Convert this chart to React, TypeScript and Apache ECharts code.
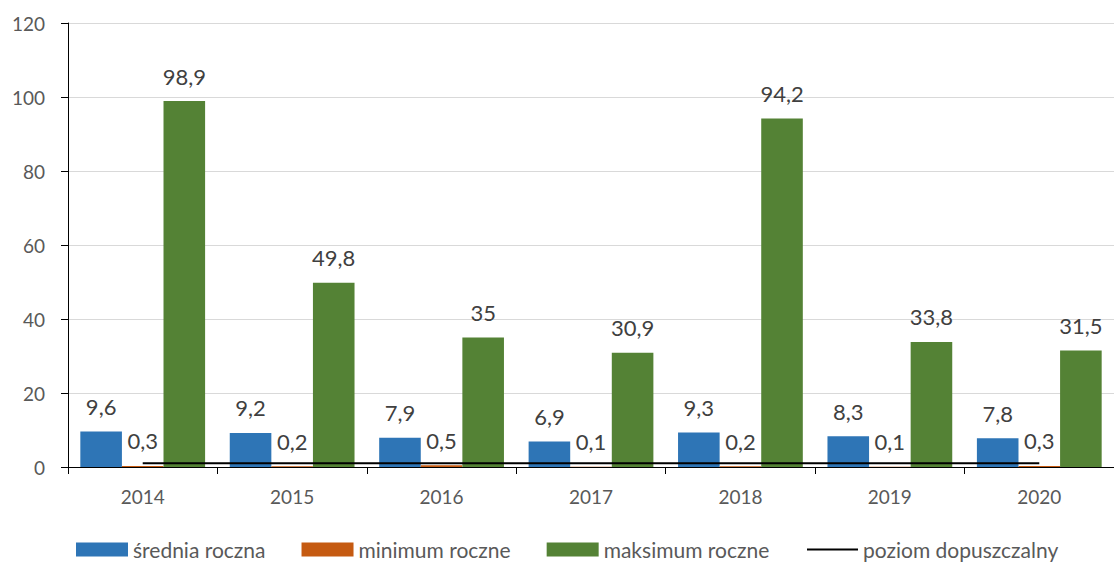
import React, { useEffect, useRef } from "react";
import * as echarts from "echarts";

const years = ["2014", "2015", "2016", "2017", "2018", "2019", "2020"];
const srednia = [9.6, 9.2, 7.9, 6.9, 9.3, 8.3, 7.8];
const minimum = [0.3, 0.2, 0.5, 0.1, 0.2, 0.1, 0.3];
const maksimum = [98.9, 49.8, 35, 30.9, 94.2, 33.8, 31.5];
const poziom = [1, 1, 1, 1, 1, 1, 1];
const seriesNames = ["średnia roczna", "minimum roczne", "maksimum roczne", "poziom dopuszczalny"];

const FONT = "Lato";

export default function App() {
  const ref = useRef<HTMLDivElement>(null);
  useEffect(() => {
    const chart = echarts.init(ref.current!, null, { renderer: "svg" });
    const fmt = (p: any) => String(p.value).replace(".", ",");
    const label = {
      show: true,
      position: "top",
      distance: 14,
      formatter: fmt,
      color: "#404040",
      fontFamily: FONT,
      fontSize: 22,
    };
    const legendText = { color: "#595959", fontSize: 21, fontFamily: FONT, lineHeight: 20 };
    chart.setOption({
      animation: false,
      textStyle: { fontFamily: FONT },
      grid: { left: 68, right: 0, top: 23, bottom: 96, containLabel: false },
      legend: [
        {
          left: 76,
          top: 539,
          padding: 0,
          itemWidth: 52,
          itemHeight: 14,
          itemGap: 36,
          icon: "rect",
          textStyle: legendText,
          data: seriesNames.slice(0, 3),
        },
        {
          left: 807,
          top: 539,
          padding: 0,
          itemWidth: 51,
          itemHeight: 2,
          textStyle: legendText,
          data: [{ name: seriesNames[3], icon: "rect" }],
        },
      ],
      xAxis: {
        type: "category",
        data: years,
        axisLine: { lineStyle: { color: "#000", width: 1 } },
        axisTick: { show: true, length: 7, lineStyle: { color: "#000" } },
        axisLabel: { color: "#595959", fontSize: 19, margin: 20, fontFamily: FONT },
      },
      yAxis: {
        type: "value",
        min: 0,
        max: 120,
        interval: 20,
        axisLine: { show: true, lineStyle: { color: "#000", width: 1 } },
        axisTick: { show: true, length: 7, lineStyle: { color: "#000" } },
        axisLabel: { color: "#595959", fontSize: 19, margin: 23, fontFamily: FONT },
        splitLine: { lineStyle: { color: "#d9d9d9", width: 1 } },
      },
      series: [
        {
          name: seriesNames[0],
          type: "bar",
          data: srednia,
          barGap: "0%",
          barCategoryGap: "16.5%",
          itemStyle: { color: "#2E75B6" },
          label,
        },
        {
          name: seriesNames[1],
          type: "bar",
          data: minimum,
          itemStyle: { color: "#C55A11" },
          label,
        },
        {
          name: seriesNames[2],
          type: "bar",
          data: maksimum,
          itemStyle: { color: "#548235" },
          label,
        },
        {
          name: seriesNames[3],
          type: "line",
          data: poziom,
          symbol: "none",
          showSymbol: false,
          z: 5,
          lineStyle: { color: "#000", width: 2 },
          itemStyle: { color: "#000" },
        },
      ],
    });
    return () => chart.dispose();
  }, []);
  return (
    <div
      ref={ref}
      style={{ position: "fixed", left: 0, top: 0, width: 1114, height: 563, background: "#fff" }}
    />
  );
}
